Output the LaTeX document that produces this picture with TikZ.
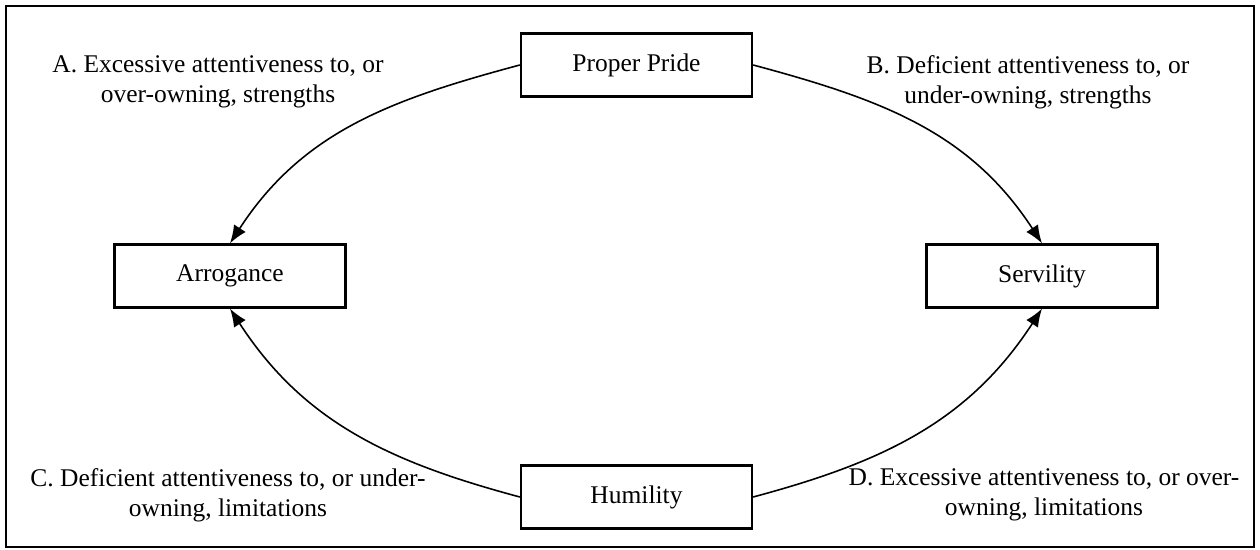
\documentclass[tikz,border=0pt]{standalone}
\usepackage{fontspec}
\setmainfont{Liberation Serif}
\usetikzlibrary{arrows.meta,positioning}

\begin{document}
\begin{tikzpicture}[
  concept/.style={draw=black, line width=1.3pt, minimum width=46.2mm, minimum height=12.6mm,
                  inner sep=0pt, font=\fontsize{14.5}{17}\selectfont},
  owning/.style={-{Latex[length=3.6mm,width=2.8mm]}, line width=0.9pt},
  gloss/.style={font=\fontsize{14.5}{17}\selectfont, align=center},
]
  \useasboundingbox (0,0) rectangle (25.2,11);
  \draw[line width=1.2pt] (0.12,0.06) rectangle (25.08,10.88);

  \node[concept] (pride) at (12.73,9.70) {Proper Pride};
  \node[concept] (arrogance) at (4.60,5.48) {Arrogance};
  \node[concept] (servility) at (20.84,5.48) {Servility};
  \node[concept] (humility) at (12.73,1.06) {Humility};

  \draw[owning] (pride.west) to[out=195, in=57] (arrogance.north);
  \draw[owning] (pride.east) to[out=-15, in=123] (servility.north);
  \draw[owning] (humility.west) to[out=165, in=-57] (arrogance.south);
  \draw[owning] (humility.east) to[out=15, in=237] (servility.south);

  \node[gloss] (excessA) at (4.36,9.36)
    {A. Excessive attentiveness to, or\\over-owning, strengths};
  \node[gloss] (deficB) at (20.56,9.36)
    {B. Deficient attentiveness to, or\\under-owning, strengths};
  \node[gloss] (deficC) at (4.56,1.10)
    {C. Deficient attentiveness to, or under-\\owning, limitations};
  \node[gloss] (excessD) at (20.88,1.10)
    {D. Excessive attentiveness to, or over-\\owning, limitations};
\end{tikzpicture}
\end{document}
